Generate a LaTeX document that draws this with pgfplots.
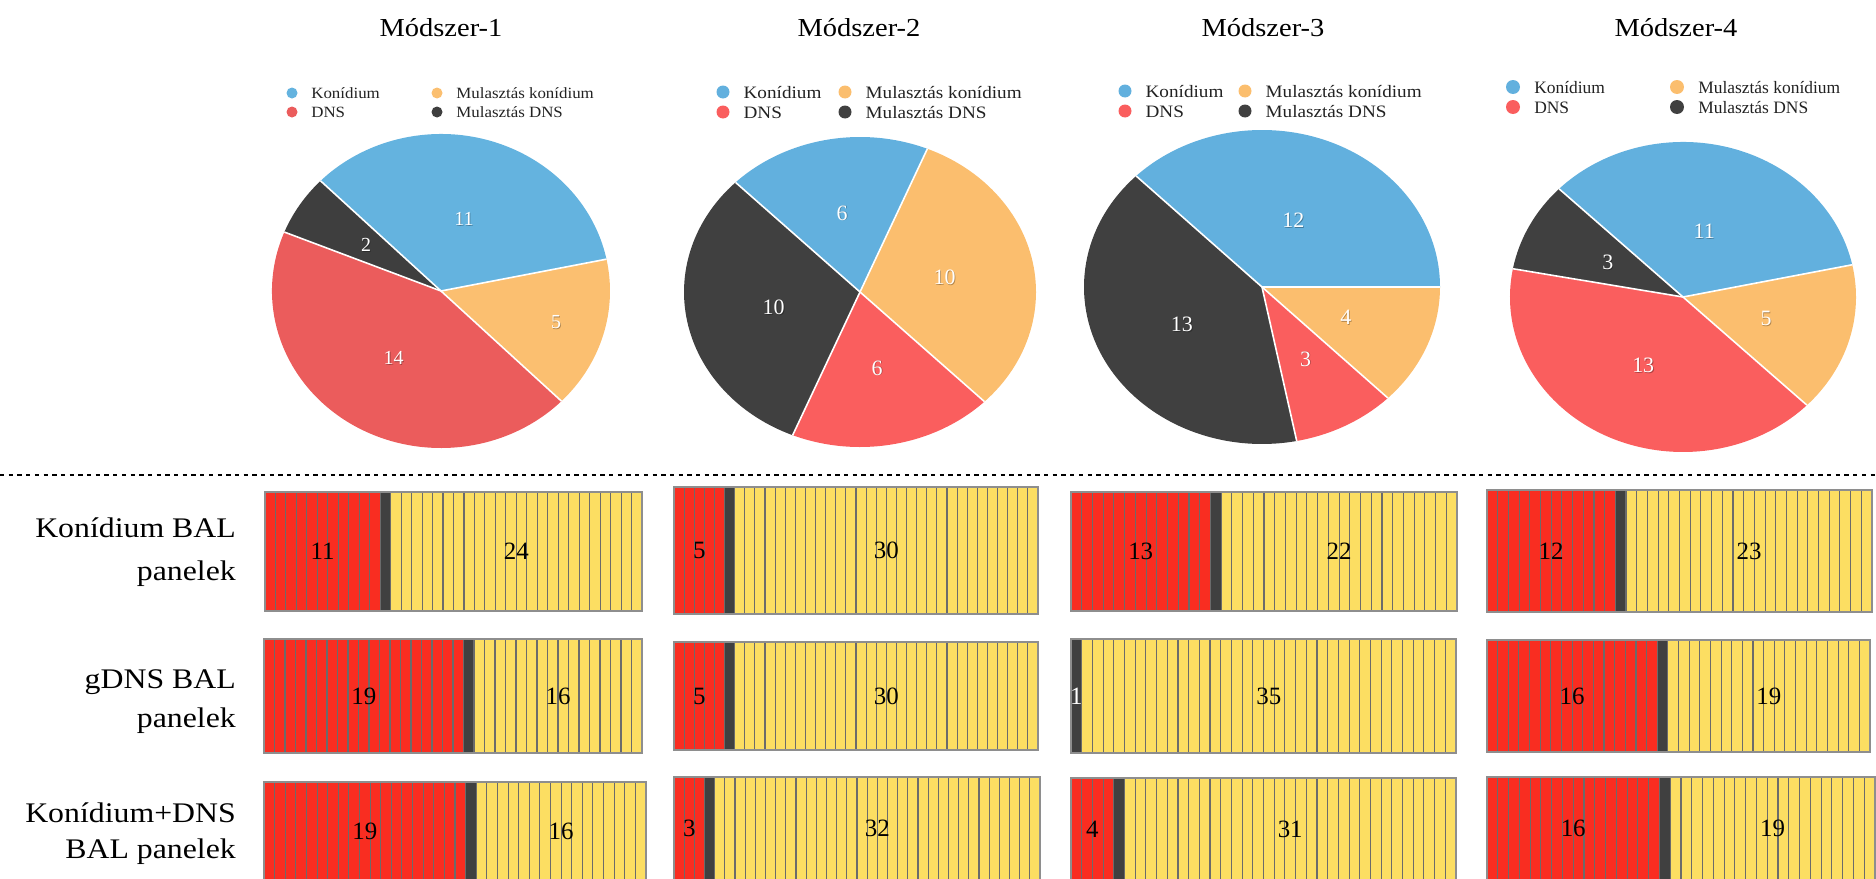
\documentclass[border=0pt]{standalone}
\usepackage{fontspec}
\setmainfont{Liberation Serif}
\usepackage{graphicx}
\usepackage{pgfplots}
\pgfplotsset{compat=1.18}

% pie colours (first pie is a little softer)
\definecolor{aBlue}{HTML}{64B3DF}
\definecolor{aOrange}{HTML}{FBBF70}
\definecolor{aRed}{HTML}{EB5C5C}
\definecolor{aDark}{HTML}{3E3E3E}
\definecolor{pBlue}{HTML}{62B0DE}
\definecolor{pOrange}{HTML}{FBBE6E}
\definecolor{pRed}{HTML}{FA5E5E}
\definecolor{pDark}{HTML}{404040}
% panel strip colours
\definecolor{cellRed}{HTML}{F92D21}
\definecolor{cellYellow}{HTML}{FCDE62}
\definecolor{cellDark}{HTML}{404040}
\definecolor{cellLine}{HTML}{6B6B6B}
\definecolor{cellBorder}{HTML}{8E8E8E}
\definecolor{legText}{HTML}{222222}

\pgfplotsset{
  stripaxis/.style={
    scale only axis, xmin=0, xmax=36, ymin=0, ymax=1,
    xbar stacked, xtick={0,...,36}, ytick=\empty, xticklabels={},
    major tick length=0pt, xmajorgrids,
    grid style={draw=cellLine, line width=1.1bp},
    axis on top, axis line style={draw=cellBorder, line width=1.6bp},
    clip=false, every axis plot/.append style={draw=none}
  },
  labelaxis/.style={
    scale only axis, xmin=0, xmax=36, ymin=0, ymax=1, hide axis, clip=false
  }
}

% one row of panel cells: #1 left, #2 top, #3 width, #4 height,
% #5 red cells, #6 yellow cells (one dark cell sits between them)
\newcommand\strip[6]{%
\begin{axis}[at={(#1bp,-#2bp)}, anchor=north west, stripaxis,
  width=#3bp, height=#4bp, bar width=#4bp]
\addplot[fill=cellRed] coordinates {(#5,0.5)};
\addplot[fill=cellDark] coordinates {(1,0.5)};
\addplot[fill=cellYellow] coordinates {(#6,0.5)};
\end{axis}
% counts written over the cells
\begin{axis}[at={(#1bp,-#2bp)}, anchor=north west, labelaxis,
  width=#3bp, height=#4bp]
\ifnum#5>0
  \node[font=\fontsize{25}{25}\selectfont] at (axis cs:{#5/2},0.5) {#5};
\else
  \node[font=\fontsize{25}{25}\selectfont, text=white] at (axis cs:0.5,0.5) {1};
\fi
\node[font=\fontsize{25}{25}\selectfont] at (axis cs:{#5+1+#6/2},0.5) {#6};
\end{axis}}

% pie: #1 cx, #2 cy, #3 rx, #4 ry, #5 start angle, #6 label size;
% slices (value/colour/label radius) are taken from \slices
\newcommand\pie[6]{%
\pgfmathsetmacro\piew{2*#3}\pgfmathsetmacro\pieh{2*#4}%
\begin{axis}[at={(#1bp,-#2bp)}, anchor=center, scale only axis,
  width=\piew bp, height=\pieh bp, xmin=-1, xmax=1, ymin=-1, ymax=1,
  hide axis, clip=false]
\pgfplotsextra{%
  \xdef\pietot{0}%
  \foreach \v/\col/\lr in \slices {\pgfmathsetmacro\ptmp{\pietot+\v}\xdef\pietot{\ptmp}}%
  \xdef\pieacc{#5}%
  \foreach \v/\col/\lr in \slices {%
    \pgfmathsetmacro\aS{\pieacc}%
    \pgfmathsetmacro\aE{\pieacc+360*\v/\pietot}%
    \fill[\col] (axis cs:0,0) -- ++(\aS:#3bp and #4bp)
      arc[start angle=\aS, end angle=\aE, x radius=#3bp, y radius=#4bp] -- cycle;
    \xdef\pieacc{\aE}}%
  \xdef\pieacc{#5}%
  \foreach \v/\col/\lr in \slices {%
    \pgfmathsetmacro\aS{\pieacc}%
    \pgfmathsetmacro\aE{\pieacc+360*\v/\pietot}%
    \pgfmathsetmacro\aM{(\aS+\aE)/2}%
    \draw[white, line width=1.6bp] (axis cs:0,0) -- ++(\aS:#3bp and #4bp);
    \node[text=black, opacity=0.3, font=\fontsize{#6}{#6}\selectfont]
      at ([xshift=0.8bp, yshift=-0.8bp]axis cs:{\lr*cos(\aM)},{\lr*sin(\aM)}) {\v};
    \node[text=white, font=\fontsize{#6}{#6}\selectfont]
      at (axis cs:{\lr*cos(\aM)},{\lr*sin(\aM)}) {\v};
    \xdef\pieacc{\aE}}%
}
\end{axis}}

% legend: #1 x of first column, #2 x of second column, #3 y of first row,
% #4 row step, #5 marker radius, #6 font size, #7 horizontal stretch, #8 colour prefix
\newcommand\pielegend[8]{%
\begin{scope}[x=1bp, y=-1bp]
\fill[#8Blue] (#1,#3) circle[radius=#5bp];
\fill[#8Red] (#1,#3+#4) circle[radius=#5bp];
\fill[#8Orange] (#2,#3) circle[radius=#5bp];
\fill[#8Dark] (#2,#3+#4) circle[radius=#5bp];
\begin{scope}[every node/.style={anchor=base west, inner sep=0pt, text=legText,
    font=\fontsize{#6}{#6}\selectfont}]
\node at (#1+1.3*#5+12,#3+0.36*#6) {\scalebox{#7}[1]{Konídium}};
\node at (#1+1.3*#5+12,#3+#4+0.36*#6) {\scalebox{#7}[1]{DNS}};
\node at (#2+1.3*#5+12,#3+0.36*#6) {\scalebox{#7}[1]{Mulasztás konídium}};
\node at (#2+1.3*#5+12,#3+#4+0.36*#6) {\scalebox{#7}[1]{Mulasztás DNS}};
\end{scope}
\end{scope}}

\begin{document}
\begin{tikzpicture}
\path[use as bounding box] (0bp,0bp) rectangle (1876bp,-879bp);

% ---- method titles ----
\begin{scope}[x=1bp, y=-1bp, every node/.style={anchor=base, inner sep=0pt,
    font=\fontsize{26}{26}\selectfont}]
\node at (441,36) {\scalebox{1.1}[1]{Módszer-1}};
\node at (859,36) {\scalebox{1.1}[1]{Módszer-2}};
\node at (1263,36) {\scalebox{1.1}[1]{Módszer-3}};
\node at (1676,36) {\scalebox{1.1}[1]{Módszer-4}};
\end{scope}

% ---- legends ----
\pielegend{292}{437}{93}{19}{5.5}{15.7}{1.08}{a}
\pielegend{723}{845}{92}{20}{6.5}{17.5}{1.1}{p}
\pielegend{1125}{1245}{91}{20}{6.5}{17.5}{1.1}{p}
\pielegend{1513}{1677}{87}{20}{7}{17.5}{1.0}{p}

% ---- pies: Konídium, Mulasztás DNS, DNS, Mulasztás konídium (counter-clockwise) ----
\def\slices{11/aBlue/0.48, 2/aDark/0.53, 14/aRed/0.51, 5/aOrange/0.71}
\pie{441}{291}{169}{157}{11.7}{20}
\def\slices{6/pBlue/0.52, 10/pDark/0.5, 6/pRed/0.5, 10/pOrange/0.49}
\pie{860}{292}{176}{155}{67.5}{22}
\def\slices{12/pBlue/0.46, 13/pDark/0.51, 3/pRed/0.52, 4/pOrange/0.51}
\pie{1262}{287}{178}{157}{0}{22}
\def\slices{11/pBlue/0.44, 3/pDark/0.49, 13/pRed/0.5, 5/pOrange/0.5}
\pie{1683}{297}{173}{155}{12}{22}

% ---- separator ----
\draw[line width=2.6bp, dash pattern=on 4.3bp off 4.4bp] (0bp,-475bp) -- (1876bp,-475bp);

% ---- row labels ----
\begin{scope}[x=1bp, y=-1bp, every node/.style={anchor=base east, inner sep=0pt,
    font=\fontsize{28.5}{28.5}\selectfont}]
\node at (236,537) {\scalebox{1.12}[1]{Konídium BAL}};
\node at (236,580) {\scalebox{1.12}[1]{panelek}};
\node at (236,688) {\scalebox{1.12}[1]{gDNS BAL}};
\node at (236,727) {\scalebox{1.12}[1]{panelek}};
\node at (236,822) {\scalebox{1.12}[1]{Konídium+DNS}};
\node at (236,858) {\scalebox{1.12}[1]{BAL panelek}};
\end{scope}

% ---- panel strips ----
% Konídium BAL panelek
\strip{265}{492}{377}{119}{11}{24}
\strip{674}{487}{364}{127}{5}{30}
\strip{1071}{492}{386}{119}{13}{22}
\strip{1487}{490}{385}{122}{12}{23}
% gDNS BAL panelek
\strip{264}{639}{378}{114}{19}{16}
\strip{674}{642}{364}{108}{5}{30}
\strip{1071}{639}{385}{114}{0}{35}
\strip{1487}{640}{383}{112}{16}{19}
% Konídium+DNS BAL panelek
\strip{264}{782}{382}{98}{19}{16}
\strip{674}{777}{366}{103}{3}{32}
\strip{1071}{778}{385}{102}{4}{31}
\strip{1487}{777}{388}{103}{16}{19}
\end{tikzpicture}
\end{document}
